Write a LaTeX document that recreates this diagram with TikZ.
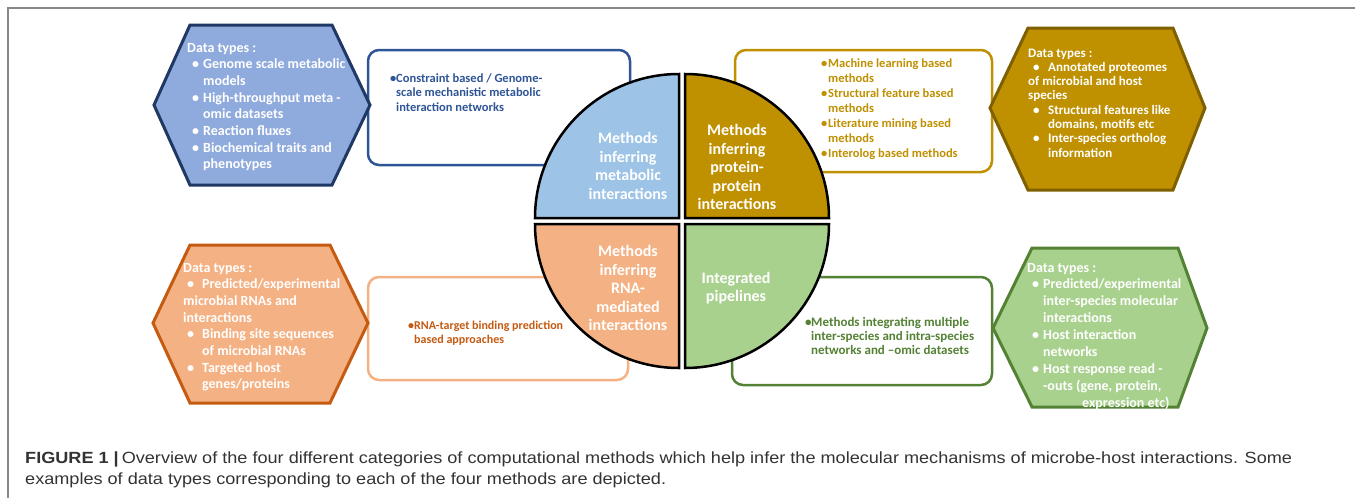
\documentclass[tikz,border=0pt]{standalone}
\usepackage{fontspec}
\usepackage{graphicx}
\setmainfont{Carlito}
\newfontfamily\capfont{Liberation Sans}
\definecolor{hexblue}{HTML}{8FAADC}
\definecolor{hexblueline}{HTML}{203864}
\definecolor{boxblue}{HTML}{2F5597}
\definecolor{qblue}{HTML}{9DC3E6}
\definecolor{gold}{HTML}{BF9000}
\definecolor{golddark}{HTML}{7F6000}
\definecolor{orangefill}{HTML}{F4B183}
\definecolor{orangedark}{HTML}{C55A11}
\definecolor{greenfill}{HTML}{A9D18E}
\definecolor{greendark}{HTML}{548235}
\definecolor{captext}{HTML}{333333}
\definecolor{framegray}{HTML}{888888}
\newlength\capw
\newcommand\tstack[2]{\vtop{\baselineskip=#1\lineskiplimit=-100pt\lineskip=0pt #2}}
\newcommand\bitem[3]{\hbox{\hspace*{#1}\makebox[\dimexpr#2-#1\relax][l]{•}#3}}
\newcommand\iline[2]{\hbox{\hspace*{#1}#2}}
\newcommand\capone{\textbf{FIGURE 1 |}\,Overview of the four different categories of computational methods which help infer the molecular mechanisms of microbe-host interactions. Some}
\begin{document}%
\settowidth\capw{\capfont\fontsize{16.2}{19}\selectfont\capone}%
\pgfmathsetmacro\capr{1267/\capw}%
\begin{tikzpicture}[x=1pt,y=-1pt,
  hexshape/.style={line width=3pt, line join=miter},
  mbox/.style={draw, rounded corners=11pt, line width=2.5pt, fill=white, inner sep=0pt},
  quad/.style={draw=black, line width=2.5pt, line join=miter},
  hextext/.style={anchor=base west, inner sep=0pt, text=white, font=\bfseries\fontsize{14}{16.7}\selectfont},
  boxtext/.style={anchor=base west, inner sep=0pt, font=\bfseries\fontsize{12.5}{14.5}\selectfont},
  quadtext/.style={align=center, inner sep=0pt, text=white, font=\bfseries\fontsize{16}{18.5}\selectfont}]
\useasboundingbox (0,0) rectangle (1355,498);
% frame
\coordinate (fbl) at (8,498);
\coordinate (ftl) at (8,8);
\coordinate (ftr) at (1355,8);
\draw[framegray, line width=1.3pt] (fbl) -- (ftl) -- (ftr);
% method boxes
\node[mbox, draw=boxblue, minimum width=262pt, minimum height=115pt] (boxmeta) at (499,107.5) {};
\node[mbox, draw=gold, minimum width=257pt, minimum height=122pt] (boxppi) at (863.5,111) {};
\node[mbox, draw=orangefill, minimum width=260pt, minimum height=103pt] (boxrna) at (498,328.5) {};
\node[mbox, draw=greendark, minimum width=260pt, minimum height=108pt] (boxint) at (862,331) {};
% hexagons
\filldraw[hexshape, fill=hexblue, draw=hexblueline] (154,105) -- (190,25) -- (332,25) -- (370,105) -- (332,185) -- (190,185) -- cycle;
\filldraw[hexshape, fill=gold, draw=golddark] (990,108) -- (1028,28) -- (1173,28) -- (1205,108) -- (1173,190) -- (1028,190) -- cycle;
\filldraw[hexshape, fill=orangefill, draw=orangedark] (153,323) -- (190,245) -- (330,245) -- (368,323) -- (330,403) -- (190,403) -- cycle;
\filldraw[hexshape, fill=greenfill, draw=greendark] (993,328) -- (1032,248) -- (1178,248) -- (1207,328) -- (1178,407) -- (1032,407) -- cycle;
% quadrants
\filldraw[quad, fill=qblue] (679,218) -- ++(-144,0) arc[start angle=180, end angle=270, radius=144] -- cycle;
\filldraw[quad, fill=gold] (685,218) -- ++(144,0) arc[start angle=0, end angle=-90, radius=144] -- cycle;
\filldraw[quad, fill=orangefill] (679,224) -- ++(-144,0) arc[start angle=180, end angle=90, radius=144] -- cycle;
\filldraw[quad, fill=greenfill] (685,224) -- ++(144,0) arc[start angle=0, end angle=90, radius=144] -- cycle;
\node[quadtext] (qmeta) at (628,166) {Methods\\inferring\\metabolic\\interactions};
\node[quadtext] (qppi) at (737,167) {Methods\\inferring\\protein-\\protein\\interactions};
\node[quadtext] (qrna) at (628,288) {Methods\\inferring\\RNA-\\mediated\\interactions};
\node[quadtext] (qint) at (736,288) {Integrated\\pipelines};
% hexagon texts
\node[hextext] (dmeta) at (187,52) {\tstack{16.7pt}{%
  \hbox{Data types :}
  \bitem{5pt}{16pt}{Genome scale metabolic}
  \iline{16pt}{models}
  \bitem{5pt}{16pt}{High-throughput meta -}
  \iline{16pt}{omic datasets}
  \bitem{5pt}{16pt}{Reaction fluxes}
  \bitem{5pt}{16pt}{Biochemical traits and}
  \iline{16pt}{phenotypes}}};
\node[hextext, font=\bfseries\fontsize{13}{14.3}\selectfont] (dppi) at (1028,57) {\tstack{14.3pt}{%
  \hbox{Data types :}
  \bitem{5pt}{20pt}{Annotated proteomes}
  \hbox{of microbial and host}
  \hbox{species}
  \bitem{5pt}{20pt}{Structural features like}
  \iline{20pt}{domains, motifs etc}
  \bitem{5pt}{20pt}{Inter-species ortholog}
  \iline{20pt}{information}}};
\node[hextext] (drna) at (183,272) {\tstack{16.7pt}{%
  \hbox{Data types :}
  \bitem{4pt}{19pt}{Predicted/experimental}
  \hbox{microbial RNAs and}
  \hbox{interactions}
  \bitem{4pt}{19pt}{Binding site sequences}
  \iline{19pt}{of microbial RNAs}
  \bitem{4pt}{19pt}{Targeted host}
  \iline{19pt}{genes/proteins}}};
\node[hextext] (dint) at (1027,272) {\tstack{16.9pt}{%
  \hbox{Data types :}
  \bitem{5pt}{16pt}{Predicted/experimental}
  \iline{16pt}{inter-species molecular}
  \iline{16pt}{interactions}
  \bitem{5pt}{16pt}{Host interaction}
  \iline{16pt}{networks}
  \bitem{5pt}{16pt}{Host response read -}
  \iline{16pt}{-outs (gene, protein,}
  \iline{55pt}{expression etc)}}};
% box texts
\node[boxtext, text=boxblue] (tmeta) at (390,82) {\tstack{14.5pt}{%
  \bitem{0pt}{6pt}{Constraint based / Genome-}
  \iline{6pt}{scale mechanistic metabolic}
  \iline{6pt}{interaction networks}}};
\node[boxtext, text=gold] (tppi) at (821,67) {\tstack{15pt}{%
  \bitem{0pt}{7pt}{Machine learning based}
  \iline{7pt}{methods}
  \bitem{0pt}{7pt}{Structural feature based}
  \iline{7pt}{methods}
  \bitem{0pt}{7pt}{Literature mining based}
  \iline{7pt}{methods}
  \bitem{0pt}{7pt}{Interolog based methods}}};
\node[boxtext, text=orangedark, font=\bfseries\fontsize{12}{14}\selectfont] (trna) at (408,329) {\tstack{14pt}{%
  \bitem{0pt}{6pt}{RNA-target binding prediction}
  \iline{6pt}{based approaches}}};
\node[boxtext, text=greendark, font=\bfseries\fontsize{13}{14}\selectfont] (tint) at (805,326) {\tstack{14pt}{%
  \bitem{0pt}{6pt}{Methods integrating multiple}
  \iline{6pt}{inter-species and intra-species}
  \iline{6pt}{networks and –omic datasets}}};
% caption
\node[anchor=base west, inner sep=0pt, text=captext] (cap1) at (25,463) {\scalebox{\capr}[1]{\capfont\fontsize{16.2}{19}\selectfont\capone}};
\node[anchor=base west, inner sep=0pt, text=captext] (cap2) at (25,484) {\scalebox{\capr}[1]{\capfont\fontsize{16.2}{19}\selectfont examples of data types corresponding to each of the four methods are depicted.}};
\end{tikzpicture}%
\end{document}
